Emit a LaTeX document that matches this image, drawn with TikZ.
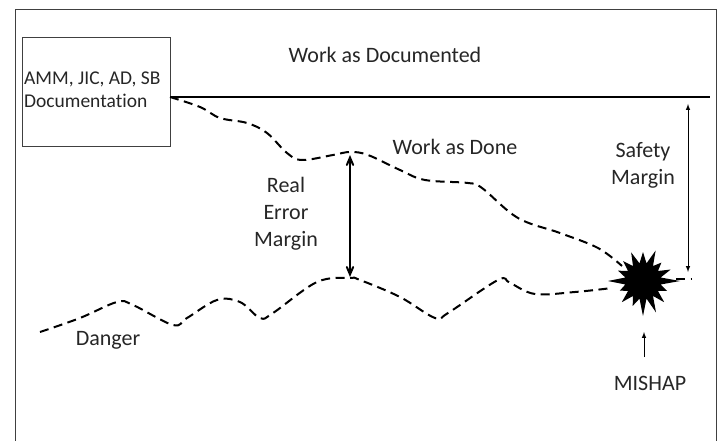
\documentclass[tikz,border=0pt]{standalone}
\usepackage{fontspec}
\setmainfont{Carlito}[Ligatures=NoCommon]
\usepackage{tikz}
\usetikzlibrary{arrows}

\begin{document}
\begin{tikzpicture}[x=1pt,y=-1pt,
    lbl/.style={font=\fontsize{22}{27}\selectfont,text=black!85,align=center,inner sep=0pt},
    wave/.style={line width=2pt,dash pattern=on 9pt off 5.5pt},
    margin/.style={line width=2pt,angle 45-angle 45},
    thinarrow/.style={line width=1pt,-latex}]
      \useasboundingbox (0,0) rectangle (718,441);
      \draw [line width=1pt,black!75] (15,441) -- (15,10) -- (716,10) -- (716,441);
      % documentation box and the documented line
      \node [draw,black!75,line width=1pt,minimum width=148pt,minimum height=109pt] (doc) at (96,92.5) {};
      \node [lbl,font=\fontsize{19.5}{23}\selectfont,align=left,anchor=west] (doctext) at (24,89.5)
            {AMM, JIC, AD, SB\\Documentation};
      \coordinate (docline) at (170,97);
      \coordinate (lineend) at (710,97);
      \draw [line width=1.5pt] (docline) -- (lineend);
      \node [lbl] (wadoc) at (385,55) {Work as Documented};
      % the mishap
      \coordinate (star) at (643,281);
      \fill [shift={(star)}] (0:37)
            \foreach \r [count=\i] in {26,30,34,35,27,30,25,35,27,28,31,29,33,26,30}
            { -- ({\i*22.5-11.25}:18) -- ({\i*22.5}:\r) } -- (348.75:18) -- cycle;
      % work as done
      \draw [wave] plot [smooth,tension=0.6] coordinates {(docline) (200,107) (220,118) (247,123)
            (267,133) (287,153) (302,160) (333,155) (350,152) (368,155) (400,170) (425,180)
            (468,183) (482,188) (518,218) (560,233) (598,248) (622,266)};
      \node [lbl] (wadone) at (455,147) {Work as Done};
      % danger
      \draw [wave] plot [smooth,tension=0.6] coordinates {(40,332) (80,318) (117,302) (133,305)
            (173,325) (187,318) (217,300) (240,302) (260,318) (273,313) (317,282) (350,278)
            (360,280) (400,297) (435,318) (448,313) (498,280) (510,283) (535,294) (575,292)
            (612,288)};
      \draw [wave] (676,279) -- (692,279);
      \node [lbl] (danger) at (108,340) {Danger};
      % margins
      \coordinate (errtop) at (350,155);
      \coordinate (errbot) at (350,277);
      \draw [margin] (errtop) -- (errbot);
      \node [lbl] (realerr) at (286,214) {Real\\Error\\Margin};
      \coordinate (safetop) at (688,104);
      \coordinate (safebot) at (688,272);
      \draw [thinarrow,latex-latex] (safetop) -- (safebot);
      \node [lbl] (safety) at (643,165) {Safety\\Margin};
      \node [lbl] (mishap) at (650,383) {MISHAP};
      \coordinate (mbase) at (644,357);
      \coordinate (mtop) at (644,332);
      \draw [thinarrow] (mbase) -- (mtop);
    \end{tikzpicture}
\end{document}
